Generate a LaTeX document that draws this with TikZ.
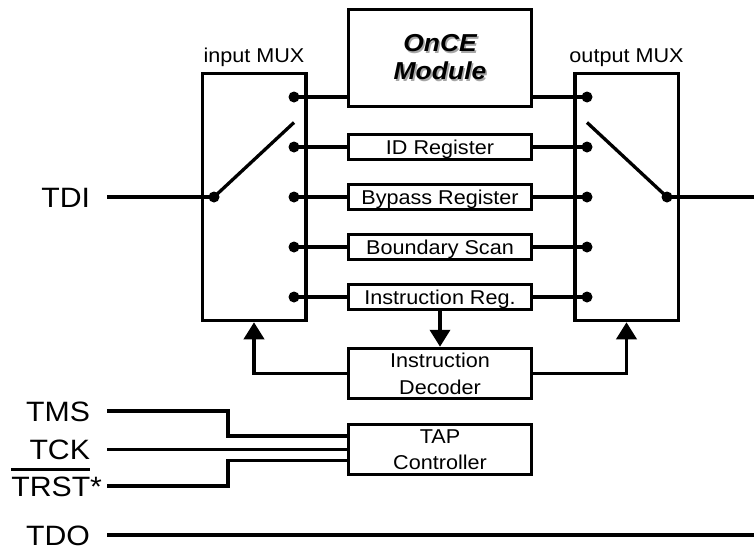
\documentclass[tikz,border=0pt]{standalone}
\usepackage{fontspec}
\setmainfont{Liberation Sans}[FakeStretch=1.08]
\usetikzlibrary{arrows.meta, positioning}

% grey drop shadow behind a word
\newcommand{\shadowed}[1]{\makebox[0pt][l]{\hspace{1.6pt}\raisebox{-1.6pt}{\color{black!35}#1}}#1}
% thick bar over an active-low signal name
\newcommand{\barred}[1]{\setbox0\hbox{#1}\rlap{\rule[25pt]{\wd0}{2.7pt}}\box0}

\begin{document}
\begin{tikzpicture}[
        x=1pt, y=-1pt,
        regbox/.style={
            draw,
            line width=3.5pt,
            minimum width=183pt,
            minimum height=25pt,
            inner sep=0pt,
            font=\fontsize{20}{26}\selectfont,
            text height=14.5pt,
            text depth=0pt
        },
        tallbox/.style={
            draw,
            line width=3.5pt,
            minimum width=183pt,
            minimum height=50pt,
            inner sep=0pt,
            align=center
        },
        muxbox/.style={
            draw,
            line width=3.5pt,
            minimum width=103.5pt,
            minimum height=247pt,
            inner sep=0pt
        },
        muxlabel/.style={
            inner sep=0pt,
            font=\fontsize{20}{24}\selectfont
        },
        pinlabel/.style={
            anchor=east,
            inner sep=0pt,
            outer xsep=17pt,
            text height=20pt,
            text depth=0pt,
            font=\fontsize{28}{32}\selectfont
        },
        bus/.style={line width=4.5pt},
        ctrl/.style={line width=3.8pt},
        wire/.style={line width=3.3pt},
        uparrow/.style={ctrl, -{Triangle[length=17pt, width=20pt]}}
    ]

    \useasboundingbox (0,0) rectangle (754,552);

    % multiplexers
    \node[muxbox] (inmux) at (254,197) {};
    \node[muxbox] (outmux) at (626.5,197) {};
    \node[muxlabel, above=5pt of inmux] {input MUX};
    \node[muxlabel, above=5pt of outmux] {output MUX};

    % registers between the two muxes
    \node[tallbox, minimum height=97pt, font=\fontsize{24.5}{28}\selectfont\bfseries\itshape]
        (once) at (440,58) {\shadowed{OnCE}\\\shadowed{Module}};
    \node[regbox] (idreg) at (440,147) {ID Register};
    \node[regbox] (bypass) at (440,197) {Bypass Register};
    \node[regbox] (bscan) at (440,247) {Boundary Scan};
    \node[regbox] (instreg) at (440,297) {Instruction Reg.};
    \node[tallbox, font=\fontsize{20}{27}\selectfont]
        (decoder) at (440,373.5) {Instruction\\Decoder};
    \node[tallbox, font=\fontsize{20}{26}\selectfont]
        (tap) at (440,449.5) {TAP\\Controller};

    \foreach \r/\y/\b in {1/97/once, 2/147/idreg, 3/197/bypass, 4/247/bscan, 5/297/instreg} {
        \coordinate (in\r) at (294,\y);
        \coordinate (out\r) at (587,\y);
        \draw[bus] (in\r) -- (in\r -| \b.west);
        \draw[bus] (\b.east |- out\r) -- (out\r);
        \fill (in\r) circle (5.5pt) (out\r) circle (5.5pt);
    }

    % switch arms
    \coordinate (inpivot) at (214,197);
    \coordinate (outpivot) at (667,197);
    \coordinate (inarm) at (294,122.5);
    \coordinate (outarm) at (587,122.5);
    \draw[wire] (inpivot) -- (inarm);
    \draw[wire] (outarm) -- (outpivot);
    \fill (inpivot) circle (5.5pt) (outpivot) circle (5.5pt);

    % decoder drives both mux selects
    \draw[ctrl, -{Triangle[length=17pt, width=20pt]}] (instreg.south) -- (decoder.north);
    \draw[uparrow] (decoder.west) -| (inmux.south);
    \draw[uparrow] (decoder.east) -| (outmux.south);

    % pins
    \node[pinlabel] (tdi) at (107,197) {TDI};
    \node[pinlabel] (tms) at (107,411) {TMS};
    \node[pinlabel] (tck) at (107,449.5) {TCK};
    \node[pinlabel, outer xsep=5pt] (trst) at (107,486) {\barred{TRST}*};
    \node[pinlabel] (tdo) at (107,535) {TDO};
    \coordinate (tdiout) at (754,197);
    \coordinate (tdoend) at (754,535);

    \draw[bus] (tdi.east) -- (inpivot);
    \draw[wire] (outpivot) -- (tdiout);
    \draw[ctrl] (tms.east) -- (228,411) |- ([yshift=13.5pt]tap.west);
    \draw[ctrl] (tck.east) -- (tap.west);
    \draw[ctrl] (trst.east) -- (228,486) |- ([yshift=-11pt]tap.west);
    \draw[bus] (tdo.east) -- (tdoend);

\end{tikzpicture}
\end{document}
